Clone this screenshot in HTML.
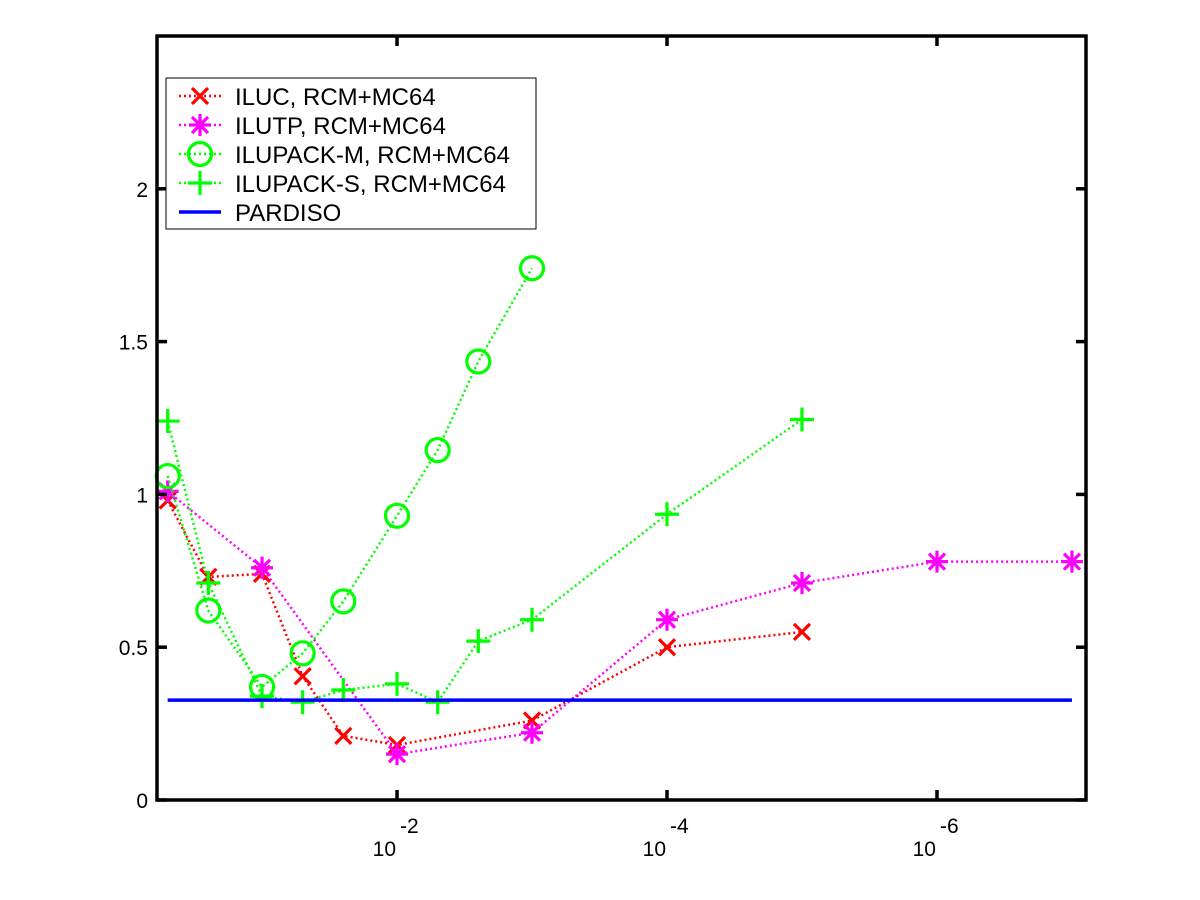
<!DOCTYPE html>
<html><head><meta charset="utf-8"><style>
html,body{margin:0;padding:0;background:#fff;}
svg{display:block;font-family:"Liberation Sans",sans-serif;}
</style></head><body>
<svg id="chart" width="1200" height="900" viewBox="0 0 1200 900" xmlns="http://www.w3.org/2000/svg">
<rect x="0" y="0" width="1200" height="900" fill="#fff"/>
<g id="marks"></g>
<g id="axes"></g>
<g id="legend"></g>
</svg>
<script>
const taus = [0.5, 0.25, 0.1, 0.05, 0.025, 0.01, 0.005, 0.0025, 0.001, 1e-4, 1e-5, 1e-6, 1e-7];
const iluc = [0.98, 0.73, 0.74, 0.405, 0.21, 0.18, null, null, 0.26, 0.50, 0.55, null, null];
const ilutp = [1.01, null, 0.76, null, null, 0.15, null, null, 0.22, 0.59, 0.71, 0.78, 0.78];
const ilupackM = [1.06, 0.62, 0.37, 0.48, 0.65, 0.93, 1.145, 1.435, 1.74, null, null, null, null];
const ilupackS = [1.24, 0.71, 0.34, 0.32, 0.36, 0.38, 0.32, 0.52, 0.59, 0.935, 1.245, null, null];
const pardiso = [0.327];
const pardisoRange = [0.5, 1e-7];
const yTicks = [0, 0.5, 1, 1.5, 2];
const yTickLabels = ["0", "0.5", "1", "1.5", "2"];
const xTicks = [1e-2, 1e-4, 1e-6];
const xTickExps = ["-2", "-4", "-6"];
const seriesNames = ["ILUC, RCM+MC64", "ILUTP, RCM+MC64", "ILUPACK-M, RCM+MC64", "ILUPACK-S, RCM+MC64", "PARDISO"];

const L=157,R=1086,T=36,B=800;
const X0=-Math.log10(0.6), X1=7.104;
function xs(t){return L+(-Math.log10(t)-X0)/(X1-X0)*(R-L);}
function ys(v){return B-(v/2.5)*(B-T);}
const NS="http://www.w3.org/2000/svg";
function el(tag,attrs,parent){const e=document.createElementNS(NS,tag);for(const k in attrs)e.setAttribute(k,attrs[k]);parent.appendChild(e);return e;}
const marks=document.getElementById('marks'),axes=document.getElementById('axes'),legend=document.getElementById('legend');

function marker(type,cx,cy,color,parent){
  const g=el('g',{stroke:color,'stroke-width':3.2,fill:'none'},parent);
  if(type==='x'){el('path',{d:`M${cx-8} ${cy-8}L${cx+8} ${cy+8}M${cx-8} ${cy+8}L${cx+8} ${cy-8}`},g);}
  else if(type==='*'){el('path',{d:`M${cx-11} ${cy}L${cx+11} ${cy}M${cx} ${cy-11}L${cx} ${cy+11}M${cx-8} ${cy-8}L${cx+8} ${cy+8}M${cx-8} ${cy+8}L${cx+8} ${cy-8}`},g);}
  else if(type==='o'){el('circle',{cx:cx,cy:cy,r:11.5},g);}
  else if(type==='+'){el('path',{d:`M${cx-12} ${cy}L${cx+12} ${cy}M${cx} ${cy-12}L${cx} ${cy+12}`},g);}
  return g;
}
const series=[
 {name:'iluc',vals:iluc,color:'#ff0000',m:'x'},
 {name:'ilutp',vals:ilutp,color:'#ff00ff',m:'*'},
 {name:'ilupack-m',vals:ilupackM,color:'#00ff00',m:'o'},
 {name:'ilupack-s',vals:ilupackS,color:'#00ff00',m:'+'}];
series.forEach(s=>{
  const pts=[];s.vals.forEach((v,i)=>{if(v!==null)pts.push([xs(taus[i]),ys(v)]);});
  const line=el('polyline',{points:pts.map(p=>p.join(',')).join(' '),fill:'none',stroke:s.color,'stroke-width':2.5,'stroke-dasharray':'2,3'},marks);
  
  
  pts.forEach(p=>{const g=marker(s.m,p[0],p[1],s.color,marks);
    
    });
});
const pl=el('line',{x1:xs(pardisoRange[0]),x2:xs(pardisoRange[1]),y1:ys(pardiso[0]),y2:ys(pardiso[0]),stroke:'#0000ff','stroke-width':3.5},marks);



const box=el('rect',{x:L,y:T,width:R-L,height:B-T,fill:'none',stroke:'#000','stroke-width':3.5},axes);


yTicks.forEach((v,i)=>{const y=ys(v);
  el('line',{x1:L,x2:L+10,y1:y,y2:y,stroke:'#000','stroke-width':3.5},axes);
  el('line',{x1:R,x2:R-10,y1:y,y2:y,stroke:'#000','stroke-width':3.5},axes);
  const t=el('text',{x:L-9,y:y+8,'text-anchor':'end','font-size':21},axes);t.textContent=yTickLabels[i];
  
  });
xTicks.forEach((v,i)=>{const x=xs(v);
  el('line',{x1:x,x2:x,y1:B,y2:B-10,stroke:'#000','stroke-width':3.5},axes);
  el('line',{x1:x,x2:x,y1:T,y2:T+10,stroke:'#000','stroke-width':3.5},axes);
  const t=el('text',{x:x-1,y:856,'text-anchor':'end','font-size':21},axes);t.textContent='10';
  
  
  const e=el('text',{x:x+3,y:833,'text-anchor':'start','font-size':21},axes);e.textContent=xTickExps[i];
  
  });

el('rect',{x:166,y:78,width:370,height:151,fill:'#fff',stroke:'#000','stroke-width':1},legend);
const lm=['x','*','o','+',null],lc=['#ff0000','#ff00ff','#00ff00','#00ff00','#0000ff'];
seriesNames.forEach((n,i)=>{const y=96+i*29;
  const g=el('g',{},legend);
  
  
  if(lm[i]){el('line',{x1:179,x2:221,y1:y,y2:y,stroke:lc[i],'stroke-width':2.5,'stroke-dasharray':'2,3'},g);marker(lm[i],200,y,lc[i],g);}
  else el('line',{x1:179,x2:221,y1:y,y2:y,stroke:lc[i],'stroke-width':3.5},g);
  const t=el('text',{x:235,y:y+9,'font-size':24,'textLength':0},g);t.removeAttribute('textLength');t.textContent=n;});
</script>
</body></html>
